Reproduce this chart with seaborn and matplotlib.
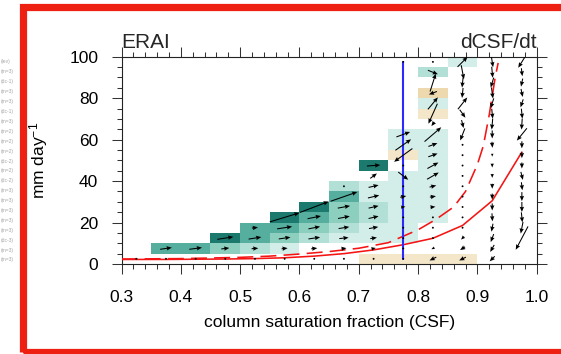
import numpy as np
import matplotlib
matplotlib.use("Agg")
import matplotlib.pyplot as plt
import seaborn as sns
from matplotlib.colors import ListedColormap, BoundaryNorm
from matplotlib.ticker import MultipleLocator
from matplotlib.patches import Rectangle

N = np.nan

# ---------------- data ----------------
csf_edges = [0.30, 0.35, 0.40, 0.45, 0.50, 0.55, 0.60, 0.65, 0.70, 0.75, 0.80, 0.85, 0.90, 0.95, 1.00]
precip_edges = [0, 5, 10, 15, 20, 25, 30, 35, 40, 45, 50, 55, 60, 65, 70, 75, 80, 85, 90, 95, 100]
csf_centers = [0.325, 0.375, 0.425, 0.475, 0.525, 0.575, 0.625, 0.675, 0.725, 0.775, 0.825, 0.875, 0.925, 0.975]
precip_centers = [2.5, 7.5, 12.5, 17.5, 22.5, 27.5, 32.5, 37.5, 42.5, 47.5,
                  52.5, 57.5, 62.5, 67.5, 72.5, 77.5, 82.5, 87.5, 92.5, 97.5]

# shading class per bin (rows listed from top: 95-100 ... 0-5); 0 = no shading, <0 = tan
shade_top_down = [
    [0, 0, 0, 0, 0, 0, 0, 0, 0, 0, 0, 1, 0, 0],
    [0, 0, 0, 0, 0, 0, 0, 0, 0, 0, 2, 0, 0, 0],
    [0, 0, 0, 0, 0, 0, 0, 0, 0, 0, 0, 0, 0, 0],
    [0, 0, 0, 0, 0, 0, 0, 0, 0, 0, -2, 0, 0, 0],
    [0, 0, 0, 0, 0, 0, 0, 0, 0, 0, 1, 0, 0, 0],
    [0, 0, 0, 0, 0, 0, 0, 0, 0, 0, -1, 0, 0, 0],
    [0, 0, 0, 0, 0, 0, 0, 0, 0, 0, 0, 0, 0, 0],
    [0, 0, 0, 0, 0, 0, 0, 0, 0, 1, 1, 0, 0, 0],
    [0, 0, 0, 0, 0, 0, 0, 0, 0, 1, 1, 0, 0, 0],
    [0, 0, 0, 0, 0, 0, 0, 0, 0, -1, 1, 0, 0, 0],
    [0, 0, 0, 0, 0, 0, 0, 0, 5, 0, 1, 0, 0, 0],
    [0, 0, 0, 0, 0, 0, 0, 0, 0, 1, 1, 0, 0, 0],
    [0, 0, 0, 0, 0, 0, 0, 2, 1, 1, 1, 0, 0, 0],
    [0, 0, 0, 0, 0, 0, 0, 4, 1, 1, 1, 0, 0, 0],
    [0, 0, 0, 0, 0, 0, 5, 3, 2, 1, 1, 0, 0, 0],
    [0, 0, 0, 0, 0, 5, 4, 3, 2, 1, 1, 0, 0, 0],
    [0, 0, 0, 0, 4, 4, 3, 2, 1, 1, 0, 0, 0, 0],
    [0, 0, 0, 5, 4, 3, 2, 1, 1, 1, 0, 0, 0, 0],
    [0, 4, 4, 3, 2, 1, 0, 0, 0, 0, 0, 0, 0, 0],
    [0, 0, 0, 0, 0, 0, 0, 0, -1, -1, -1, -1, 0, 0],
]

# tendency vectors (dCSF/dt, dP/dt) as drawn, rows listed from top
u_top_down = [
    [N, N, N, N, N, N, N, N, N, 0, 0, 10, 1.7, -7.3],
    [N, N, N, N, N, N, N, N, N, N, 10, 2.7, 1, 1],
    [N, N, N, N, N, N, N, N, N, N, 5.7, -1, -3, -1.7],
    [N, N, N, N, N, N, N, N, N, N, -8, -1, 1.5, 1.7],
    [N, N, N, N, N, N, N, N, N, N, 10, 9.3, -3, -2.7],
    [N, N, N, N, N, N, N, N, N, N, -9, 5.7, 1, 1],
    [N, N, N, N, N, N, N, N, N, N, -3, 2, -1, -0.7],
    [N, N, N, N, N, N, N, N, N, 13.7, 16.7, -4.7, 0, -10],
    [N, N, N, N, N, N, N, N, N, 15.7, 9, 0, 0.5, 0],
    [N, N, N, N, N, N, N, N, N, -18.3, 9.3, 0, 0, 0],
    [N, N, N, N, N, N, N, N, 13.3, 0, 11, 0, 0, 0],
    [N, N, N, N, N, N, N, N, 6.7, 10, 11.7, 0, 0, 2],
    [N, N, N, N, N, N, N, 0, 10, 0, 6.7, 0, 0, 1],
    [N, N, N, N, N, N, N, 26.7, 11.3, 6, 6, 0, 0, 0],
    [N, N, N, N, N, N, 29, 12.3, 10, 4.3, 5, 0, 0, 0],
    [N, N, N, N, N, 29.7, 13.3, 11.7, 10, 2, 0, 0, 0.5, 1],
    [N, N, N, N, 6, 15, 11.7, 10.7, 9.3, 0, 0, 0, -1.5, -2.3],
    [N, N, N, 16, 12.7, 11.7, 11.7, 9.3, 6.7, 0, 0, -3, -3, -12.3],
    [N, 11.7, 12.7, 8, 6.7, 6, 6, 5, 4.3, 0, -3, -5, -4, N],
    [0, 0, 0, 0, 0, 0, 0, 0, 0, 0, -6.7, -6.7, -5, N],
]
v_top_down = [
    [N, N, N, N, N, N, N, N, N, 0, 0, 10, -10.7, -11.7],
    [N, N, N, N, N, N, N, N, N, N, -4, -14, -11, -8],
    [N, N, N, N, N, N, N, N, N, N, 18, -10, -10, -8],
    [N, N, N, N, N, N, N, N, N, N, -3, -10, -11, -8],
    [N, N, N, N, N, N, N, N, N, N, 12, 11.7, -10, -8],
    [N, N, N, N, N, N, N, N, N, N, -20, -8, -10, -10],
    [N, N, N, N, N, N, N, N, N, N, -4, -8, -11, -11],
    [N, N, N, N, N, N, N, N, N, 5, 14.3, -12, -8, -12.3],
    [N, N, N, N, N, N, N, N, N, 11, 3.3, 0, -6, -7],
    [N, N, N, N, N, N, N, N, N, -13.3, 3.3, 0, -3, -6],
    [N, N, N, N, N, N, N, N, 1, 0, 6, 0, -4, -6],
    [N, N, N, N, N, N, N, N, 5, -7.7, 6.7, 0, -4, -8],
    [N, N, N, N, N, N, N, 0, 2.3, 0, 1.7, 0, -5, -8],
    [N, N, N, N, N, N, N, 9.3, 2.7, 1.3, 1, 0, -6, -9],
    [N, N, N, N, N, N, 11, 2.3, 2.3, 0.7, 0.5, 0, -7, -10],
    [N, N, N, N, N, 9, 2.7, 2.3, 2.3, 0.3, 0, 0, -8, -10],
    [N, N, N, N, 0.7, 2.3, 2.3, 1.7, 1.7, 0, 0, 0, -8, -11.7],
    [N, N, N, 2.5, 2, 1.7, 1.7, 1, 1, 0, 0, -3, -8, -23.3],
    [N, 1.7, 1.7, 1, 0.5, 0.7, 0.7, 0.7, 1, 0, -1.5, -3.3, -7, N],
    [0, 0, 0, 0, 0, 0, 0, 0, 0, 0, -3.3, -3.3, -5, N],
]

solid_csf = [0.30, 0.325, 0.375, 0.425, 0.475, 0.525, 0.575, 0.625, 0.675, 0.725, 0.775, 0.825, 0.875, 0.925, 0.975]
solid_precip = [2.2, 2.2, 2.2, 2.3, 2.4, 2.6, 3.0, 3.8, 5.0, 6.8, 9.3, 12.4, 18.6, 30.5, 54.0]
dashed_csf = [0.30, 0.40, 0.50, 0.55, 0.60, 0.65, 0.70, 0.75, 0.80, 0.83, 0.86, 0.88, 0.90, 0.91, 0.92, 0.93, 0.935]
dashed_precip = [2.4, 2.6, 3.2, 3.8, 4.8, 6.0, 7.6, 10.3, 16.5, 21.5, 27.5, 35, 48, 57, 72, 90, 97]
mean_csf = 0.775
mean_line_precip = [2.5, 97.5]

x_ticks = [0.3, 0.4, 0.5, 0.6, 0.7, 0.8, 0.9, 1.0]
x_ticklabels = ["0.3", "0.4", "0.5", "0.6", "0.7", "0.8", "0.9", "1.0"]
y_ticks = [0, 20, 40, 60, 80, 100]

ghost_labels = ["(lev)", "(m=3)", "(dc-1)", "(m=3)", "(m=3)", "(dc-1)", "(m=3)", "(m=2)",
                "(m=2)", "(m=2)", "(dc-2)", "(m=2)", "(dc-2)", "(m=3)", "(m=3)", "(m=3)",
                "(m=3)", "(m=3)", "(dc-3)", "(m=3)", "(m=3)"]

# ---------------- style ----------------
sns.set_theme(style="ticks")
plt.rcParams["font.family"] = ["Liberation Sans", "DejaVu Sans"]
plt.rcParams["mathtext.fontset"] = "custom"
plt.rcParams["mathtext.rm"] = "Liberation Sans"
plt.rcParams["mathtext.it"] = "Liberation Sans:italic"

W, H = 561, 354
fig = plt.figure(figsize=(W / 100, H / 100), dpi=100)
fig.patch.set_facecolor("white")
ax_l, ax_r, ax_t, ax_b = 121.5, 536.7, 56.7, 264.0
ax = fig.add_axes([ax_l / W, 1 - ax_b / H, (ax_r - ax_l) / W, (ax_b - ax_t) / H])
ax.set_facecolor("white")

# shading
levels = np.array(shade_top_down[::-1], dtype=float)
levels = np.ma.masked_equal(levels, 0)
cmap = ListedColormap(["#edd9ad", "#f4e6c8", "#ffffff", "#d3ede8", "#b3e0d6",
                       "#8dcfbf", "#55ae9e", "#1b7a6d"])
norm = BoundaryNorm([-2.5, -1.5, -0.5, 0.5, 1.5, 2.5, 3.5, 4.5, 5.5], cmap.N)
ax.pcolormesh(csf_edges, precip_edges, levels, cmap=cmap, norm=norm, zorder=1)

# curves
sns.lineplot(x=solid_csf, y=solid_precip, color="#f41414", linewidth=1.15,
             errorbar=None, ax=ax, zorder=3)
sns.lineplot(x=dashed_csf, y=dashed_precip, color="#f41414", linewidth=1.15,
             linestyle=(0, (10, 4.5)), errorbar=None, ax=ax, zorder=3)
ax.plot([mean_csf, mean_csf], mean_line_precip, color="#2b2bff", linewidth=1.5, zorder=3)

# vectors
X, Y = np.meshgrid(csf_centers, precip_centers)
U = np.ma.masked_invalid(np.array(u_top_down[::-1], dtype=float))
V = np.ma.masked_invalid(np.array(v_top_down[::-1], dtype=float))
ax.quiver(X, Y, U, V, angles="uv", scale_units="dots", scale=1, units="dots",
          width=1.05, headwidth=4.2, headlength=5, headaxislength=4.5, minlength=2,
          pivot="middle", color="black", zorder=5)

# axes formatting
ax.set_xlim(0.3, 1.0)
ax.set_ylim(0, 100)
ax.set_xticks(x_ticks)
ax.set_xticklabels(x_ticklabels)
ax.set_yticks(y_ticks)
ax.xaxis.set_minor_locator(MultipleLocator(0.02))
ax.yaxis.set_minor_locator(MultipleLocator(5))
for s in ax.spines.values():
    s.set_visible(True)
    s.set_linewidth(0.8)
    s.set_color("#222222")
ax.tick_params(which="both", direction="out", top=True, right=True,
               color="#333333", width=0.75, labelsize=12.5, labelcolor="black")
ax.tick_params(which="major", length=7.2)
ax.tick_params(axis="x", which="major", pad=11.5)
ax.tick_params(axis="y", which="major", pad=9.5)
ax.tick_params(which="minor", length=3.6)

ax.set_xlabel("column saturation fraction (CSF)", fontsize=12.5, color="black")
ax.set_ylabel("mm day$^{-1}$", fontsize=12.5, color="black")
ax.xaxis.set_label_coords(0.5, -0.245)
ax.yaxis.set_label_coords(-0.172, 0.5)

ax.text(0.0, 1.042, "ERAI", transform=ax.transAxes, ha="left", va="baseline", fontsize=15)
ax.text(1.0, 1.042, "dCSF/dt", transform=ax.transAxes, ha="right", va="baseline", fontsize=15)

# red frame around the panel
fig.add_artist(Rectangle((23 / W, 1 - 351.8 / H), (566 - 23) / W, (351.8 - 7.2) / H,
                         transform=fig.transFigure, fill=False, edgecolor="#ee2012",
                         linewidth=5.2, clip_on=False, zorder=10))

# faint text remnants left of the frame
for i, s in enumerate(ghost_labels):
    fig.text(1 / W, 1 - (62 + i * 9.9) / H, s, fontsize=3.6, color="#a8a8a8",
             ha="left", va="center")

fig.savefig("out.png", dpi=100, facecolor="white")
